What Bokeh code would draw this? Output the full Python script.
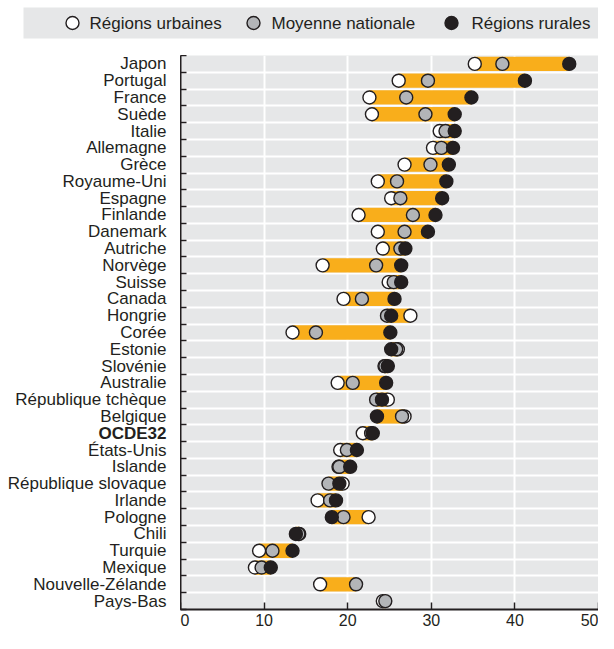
import numpy as np
from bokeh.plotting import figure
from bokeh.models import Range1d, FixedTicker, ColumnDataSource, LinearAxis
from bokeh.layouts import column, row
from bokeh.core.properties import value, field
from bokeh.embed import file_html
from bokeh.resources import INLINE

# ---------------- data ----------------
countries = ["Japon", "Portugal", "France", "Suède", "Italie", "Allemagne", "Grèce",
             "Royaume-Uni", "Espagne", "Finlande", "Danemark", "Autriche", "Norvège",
             "Suisse", "Canada", "Hongrie", "Corée", "Estonie", "Slovénie", "Australie",
             "République tchèque", "Belgique", "OCDE32", "États-Unis", "Islande",
             "République slovaque", "Irlande", "Pologne", "Chili", "Turquie", "Mexique",
             "Nouvelle-Zélande", "Pays-Bas"]
urban = [35.2, 26.1, 22.6, 22.9, 31.0, 30.2, 26.8, 23.6, 25.2, 21.3, 23.6, 24.2, 17.0,
         24.9, 19.5, 27.5, 13.4, 26.0, 24.4, 18.8, 24.8, 26.8, 21.8, 19.1, 18.9,
         19.4, 16.4, 22.5, 14.2, 9.4, 8.9, 16.7, 24.2]
national = [38.5, 29.6, 27.0, 29.3, 31.7, 31.2, 29.9, 25.9, 26.3, 27.8, 26.8, 26.3, 23.4,
            25.5, 21.7, 24.7, 16.2, 25.8, 24.5, 20.6, 23.4, 26.5, 22.8, 19.9, 19.0,
            17.7, 17.9, 19.5, 14.1, 11.0, 9.7, 21.0, 24.5]
rural = [46.5, 41.2, 34.8, 32.8, 32.8, 32.6, 32.1, 31.8, 31.3, 30.5, 29.6, 26.9, 26.4,
         26.4, 25.6, 25.2, 25.1, 25.2, 24.8, 24.6, 24.1, 23.5, 23.0, 21.1, 20.3,
         19.0, 18.6, 18.1, 13.8, 13.4, 10.8, None, None]
series_names = ["Régions urbaines", "Moyenne nationale", "Régions rurales"]
x_ticks = [0, 10, 20, 30, 40, 50]

# ---------------- styles ----------------
FONT = "Liberation Sans"
TXT = "#231f20"
BG = "#e6e7e8"
ORANGE = "#f9ae1b"
FILLS = ["#ffffff", "#b3b5b8", "#231f20"]
n = len(countries)

u = np.array(urban, dtype=float)
m = np.array(national, dtype=float)
r = np.array([np.nan if v is None else v for v in rural], dtype=float)
stack = np.vstack([u, m, r])
lo = np.nanmin(stack, axis=0)
hi = np.nanmax(stack, axis=0)
idx = np.arange(n)

src = ColumnDataSource(dict(y=idx, urban=u, national=m, rural=r, lo=lo, hi=hi,
                            name=countries,
                            style=["bold" if c == "OCDE32" else "normal" for c in countries]))

y_range = Range1d(n - 0.5, -0.5)
boundaries = list(np.arange(n + 1) - 0.5)

W_TOTAL = 598
W_LABEL = 180
W_MAIN = W_TOTAL - W_LABEL
H_LEG = 55
H_MAIN = 633 - H_LEG
BOTTOM = 24

# ---------------- main plot ----------------
p = figure(width=W_MAIN, height=H_MAIN, x_range=Range1d(0, 50), y_range=y_range,
           output_backend="svg", toolbar_location=None, min_border=0,
           min_border_bottom=BOTTOM, min_border_left=0, min_border_top=0, min_border_right=0,
           x_axis_location=None, y_axis_location=None)
p.background_fill_color = BG
p.border_fill_color = "white"
p.outline_line_color = None
p.xgrid.ticker = FixedTicker(ticks=x_ticks[1:])
p.ygrid.ticker = FixedTicker(ticks=boundaries)
p.grid.grid_line_color = "white"
p.grid.grid_line_width = 2

xaxis = LinearAxis(ticker=FixedTicker(ticks=x_ticks))
xaxis.axis_line_color = TXT
xaxis.axis_line_width = 2
xaxis.major_tick_in = 7
xaxis.major_tick_out = 0
xaxis.major_tick_line_color = TXT
xaxis.major_tick_line_width = 1.5
xaxis.minor_tick_line_color = None
xaxis.major_label_text_font = FONT
xaxis.major_label_text_font_size = "16px"
xaxis.major_label_text_color = TXT
xaxis.major_label_standoff = 4
p.add_layout(xaxis, "below")

yaxis = LinearAxis(ticker=FixedTicker(ticks=boundaries))
yaxis.axis_line_color = TXT
yaxis.axis_line_width = 2
yaxis.major_tick_in = 6
yaxis.major_tick_out = 0
yaxis.major_tick_line_color = TXT
yaxis.major_tick_line_width = 1.5
yaxis.minor_tick_line_color = None
yaxis.major_label_text_font_size = "0px"
yaxis.major_label_text_color = None
yaxis.major_label_standoff = 0
p.add_layout(yaxis, "left")

p.hbar(y="y", left="lo", right="hi", height=0.85, source=src,
       fill_color=ORANGE, line_color=None)
for col, fc in zip(["urban", "national", "rural"], FILLS):
    p.scatter(x=col, y="y", source=src, size=13, marker="circle",
              fill_color=fc, line_color=TXT, line_width=1.4)

# ---------------- label column ----------------
lab = figure(width=W_LABEL, height=H_MAIN, x_range=Range1d(0, 1), y_range=y_range,
             output_backend="svg", toolbar_location=None, min_border=0,
             min_border_bottom=BOTTOM, min_border_top=0, min_border_left=0, min_border_right=0,
             x_axis_location=None, y_axis_location=None)
lab.grid.visible = False
lab.outline_line_color = None
lab.background_fill_color = "white"
lab.text(x=1, y="y", text="name", source=src, x_offset=-14,
         text_align="right", text_baseline="middle",
         text_font=value(FONT), text_font_size="17px",
         text_font_style=field("style"), text_color=TXT)

# ---------------- legend strip ----------------
leg = figure(width=W_TOTAL, height=H_LEG, x_range=Range1d(0, W_TOTAL),
             y_range=Range1d(H_LEG, 0), output_backend="svg", toolbar_location=None,
             min_border=0, x_axis_location=None, y_axis_location=None)
leg.grid.visible = False
leg.outline_line_color = None
leg.quad(left=23, right=W_TOTAL, top=7, bottom=38, fill_color=BG, line_color=None)
leg.scatter(x=[72, 253, 451], y=[22.5, 22.5, 22.5], size=13, marker="circle",
            fill_color=FILLS, line_color=TXT, line_width=1.4)
leg.text(x=[89, 271, 471], y=[22.5, 22.5, 22.5], text=series_names,
         text_align="left", text_baseline="middle",
         text_font=value(FONT), text_font_size="17px", text_color=TXT)

layout = column(leg, row(lab, p))
open("out.html", "w").write(file_html(layout, INLINE))
